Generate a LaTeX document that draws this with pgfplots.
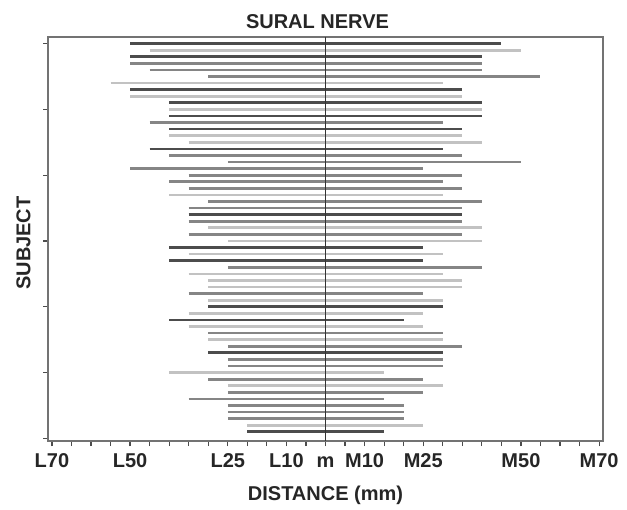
\documentclass[border=0pt]{standalone}
\usepackage{fontspec}
\setmainfont{Liberation Sans}
\usepackage{pgfplots}
\pgfplotsset{compat=1.18}
\usetikzlibrary{calc}

% three grey shades used for the subject ranges
\pgfplotsset{
  dk/.style={draw=black!70, line width=1.35pt},
  md/.style={draw=black!48, line width=1.35pt},
  lt/.style={draw=black!24, line width=1.35pt},
}

\begin{document}
\begin{tikzpicture}
\begin{axis}[
  scale only axis,
  width=277.5pt, height=202pt,
  xmin=-71, xmax=71,
  ymin=0, ymax=61.4,
  y dir=reverse,
  no markers,
  axis line style={black!55, line width=0.8pt},
  tick align=outside,
  xtick pos=left, ytick pos=left,
  major tick length=2.5pt, minor tick length=2.5pt,
  every tick/.style={black!70, line width=0.6pt},
  xtick={-70,-50,-25,-10,0,10,25,50,70},
  xticklabels={L70,L50,L25,L10,m,M10,M25,M50,M70},
  minor xtick={-70,-65,...,70},
  ytick={1,11,21,31,41,51,61},
  yticklabels={},
  ticklabel style={font=\bfseries\fontsize{10}{12}\selectfont, text=black!85,
    text height=7.3pt, text depth=0pt},
  title={SURAL NERVE},
  title style={font=\bfseries\fontsize{10}{12}\selectfont, text=black!85,
    at={(axis description cs:0.5,1)}, anchor=center, yshift=1.5pt, xshift=-4pt},
  xlabel={DISTANCE (mm)},
  xlabel style={font=\bfseries\fontsize{10}{12}\selectfont, text=black!85,
    at={(axis description cs:0.5,0)}, anchor=center, yshift=-27pt},
  ylabel={SUBJECT},
  ylabel style={font=\bfseries\fontsize{10}{12}\selectfont, text=black!85,
    at={(axis description cs:0,0.5)}, anchor=center, yshift=12.25pt, xshift=-2pt},
]
\addplot[dk] coordinates {(-50,1)(45,1)};
\addplot[lt] coordinates {(-45,2)(50,2)};
\addplot[dk] coordinates {(-50,3)(40,3)};
\addplot[md] coordinates {(-50,4)(40,4)};
\addplot[md] coordinates {(-45,5)(40,5)};
\addplot[md] coordinates {(-30,6)(55,6)};
\addplot[lt] coordinates {(-55,7)(30,7)};
\addplot[dk] coordinates {(-50,8)(35,8)};
\addplot[lt] coordinates {(-50,9)(35,9)};
\addplot[dk] coordinates {(-40,10)(40,10)};
\addplot[lt] coordinates {(-40,11)(40,11)};
\addplot[dk] coordinates {(-40,12)(40,12)};
\addplot[md] coordinates {(-45,13)(30,13)};
\addplot[dk] coordinates {(-40,14)(35,14)};
\addplot[lt] coordinates {(-40,15)(35,15)};
\addplot[lt] coordinates {(-35,16)(40,16)};
\addplot[dk] coordinates {(-45,17)(30,17)};
\addplot[md] coordinates {(-40,18)(35,18)};
\addplot[md] coordinates {(-25,19)(50,19)};
\addplot[md] coordinates {(-50,20)(25,20)};
\addplot[md] coordinates {(-35,21)(35,21)};
\addplot[md] coordinates {(-40,22)(30,22)};
\addplot[md] coordinates {(-35,23)(35,23)};
\addplot[lt] coordinates {(-40,24)(30,24)};
\addplot[md] coordinates {(-30,25)(40,25)};
\addplot[md] coordinates {(-35,26)(35,26)};
\addplot[dk] coordinates {(-35,27)(35,27)};
\addplot[md] coordinates {(-35,28)(35,28)};
\addplot[lt] coordinates {(-30,29)(40,29)};
\addplot[md] coordinates {(-35,30)(35,30)};
\addplot[lt] coordinates {(-25,31)(40,31)};
\addplot[dk] coordinates {(-40,32)(25,32)};
\addplot[lt] coordinates {(-35,33)(30,33)};
\addplot[dk] coordinates {(-40,34)(25,34)};
\addplot[md] coordinates {(-25,35)(40,35)};
\addplot[lt] coordinates {(-35,36)(30,36)};
\addplot[lt] coordinates {(-30,37)(35,37)};
\addplot[lt] coordinates {(-30,38)(35,38)};
\addplot[md] coordinates {(-35,39)(25,39)};
\addplot[lt] coordinates {(-30,40)(30,40)};
\addplot[dk] coordinates {(-30,41)(30,41)};
\addplot[lt] coordinates {(-35,42)(25,42)};
\addplot[dk] coordinates {(-40,43)(20,43)};
\addplot[lt] coordinates {(-35,44)(25,44)};
\addplot[md] coordinates {(-30,45)(30,45)};
\addplot[lt] coordinates {(-30,46)(30,46)};
\addplot[md] coordinates {(-25,47)(35,47)};
\addplot[dk] coordinates {(-30,48)(30,48)};
\addplot[md] coordinates {(-25,49)(30,49)};
\addplot[md] coordinates {(-25,50)(30,50)};
\addplot[lt] coordinates {(-40,51)(15,51)};
\addplot[md] coordinates {(-30,52)(25,52)};
\addplot[lt] coordinates {(-25,53)(30,53)};
\addplot[md] coordinates {(-25,54)(25,54)};
\addplot[md] coordinates {(-35,55)(15,55)};
\addplot[md] coordinates {(-25,56)(20,56)};
\addplot[md] coordinates {(-25,57)(20,57)};
\addplot[md] coordinates {(-25,58)(20,58)};
\addplot[lt] coordinates {(-20,59)(25,59)};
\addplot[dk] coordinates {(-20,60)(15,60)};
% midline
\addplot[black!80, line width=0.9pt] coordinates {(0,0)(0,61.4)};
\coordinate (bl) at (axis description cs:0,0);
\coordinate (tr) at (axis description cs:1,1);
\end{axis}
\pgfresetboundingbox
\path[use as bounding box] ($(bl)+(-24pt,-34pt)$) rectangle ($(tr)+(12pt,18.5pt)$);
\end{tikzpicture}
\end{document}
